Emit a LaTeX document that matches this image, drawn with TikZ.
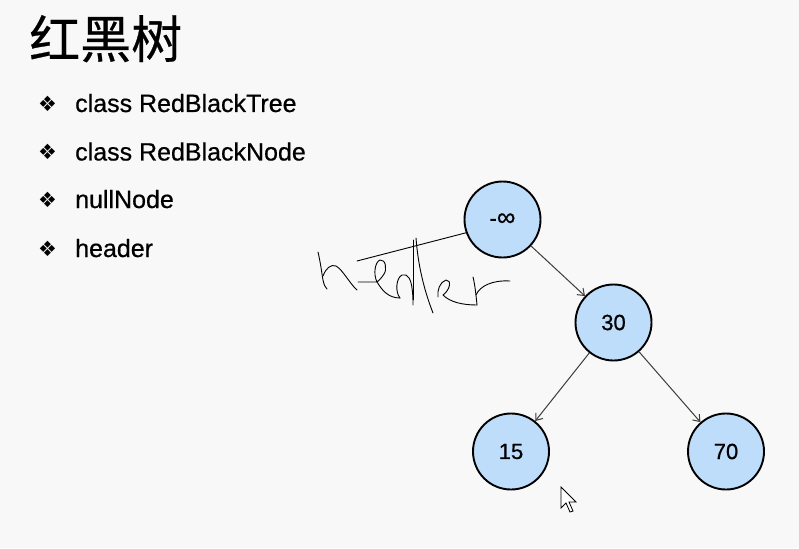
\documentclass[tikz,border=0pt]{standalone}
\usepackage{fontspec}
\setmainfont{Liberation Sans}
\newfontfamily\cjkfont[FakeBold=0.5]{Noto Sans CJK SC}
\newfontfamily\symfont{DejaVu Sans}
\newfontfamily\itemfont[FakeBold=0.6]{Liberation Sans}
\usetikzlibrary{arrows.meta}
\definecolor{bgc}{RGB}{248,248,248}
\definecolor{nodefill}{RGB}{190,221,250}
\definecolor{edgec}{RGB}{60,60,60}
\tikzset{
  treenode/.style={circle, draw=black, line width=1.9pt, fill=nodefill, minimum size=76pt, inner sep=0pt, font=\itemfont\fontsize{22}{24}\selectfont},
  treeedge/.style={draw=edgec, line width=1pt, -{Straight Barb[length=6pt,width=9pt]}},
  bulletitem/.style={anchor=base west, inner sep=0pt, font=\itemfont\fontsize{25}{28}\selectfont},
  bulletsym/.style={anchor=center, inner sep=0pt, font=\symfont\fontsize{21}{22}\selectfont},
  ink/.style={draw=black, line width=0.9pt, line cap=round, line join=round}
}
\begin{document}
\begin{tikzpicture}[x=1pt,y=-1pt]
\fill[bgc] (0,0) rectangle (799,548);
\useasboundingbox (0,0) rectangle (799,548);

% title
\node[anchor=base west, inner sep=0pt, font=\cjkfont\fontsize{51}{54}\selectfont] (title) at (29,58) {红黑树};

% bullets
\node[bulletsym] (b1) at (47.5,103.5) {❖};
\node[bulletitem] (t1) at (75,112) {class RedBlackTree};
\node[bulletsym] (b2) at (47.5,152) {❖};
\node[bulletitem] (t2) at (75,160.5) {class RedBlackNode};
\node[bulletsym] (b3) at (47.5,200) {❖};
\node[bulletitem] (t3) at (75,208) {nullNode};
\node[bulletsym] (b4) at (47.5,248.5) {❖};
\node[bulletitem] (t4) at (75,257) {header};

% tree
\node[treenode] (ninf) at (502.5,219.5) {-{\fontsize{26}{26}\selectfont∞}};
\node[treenode] (n30) at (613.5,322.5) {30};
\node[treenode] (n15) at (511,451.5) {15};
\node[treenode] (n70) at (726,451.5) {70};

\draw[treeedge] (ninf) -- (n30);
\draw[treeedge] (n30) -- (n15);
\draw[treeedge] (n30) -- (n70);

% handwritten annotation
\coordinate (hw) at (357,261);
\draw[ink] (hw) -- (ninf.200);
% h
\draw[ink] (318,252) .. controls (321,265) and (322,275) .. (323,280) .. controls (324,285) and (325,287) .. (327,289);
\draw[ink] (323,276) .. controls (326,268) and (331,264) .. (336,266) .. controls (343,270) and (350,284) .. (357,290);
% dash + e
\draw[ink] (358,282) -- (377,282) .. controls (373,274) and (375,262) .. (380,260) .. controls (386,259) and (387,270) .. (384,274) .. controls (381,279) and (378,281) .. (377,282) .. controls (382,290) and (388,298) .. (400,298);
% d
\draw[ink] (400,298) .. controls (395,292) and (396,278) .. (402,275) .. controls (408,273) and (411,280) .. (412,288) .. controls (413,295) and (413,300) .. (413,305);
\draw[ink] (413,240) -- (413,300);
\draw[ink] (416,238) .. controls (418,265) and (424,290) .. (433,313);
% e
\draw[ink] (438,297) .. controls (437,290) and (440,282) .. (446,280) .. controls (452,280) and (450,290) .. (443,295) .. controls (450,302) and (462,305) .. (477,305);
% r
\draw[ink] (473,277) .. controls (475,285) and (476,295) .. (477,305);
\draw[ink] (476,295) .. controls (480,286) and (492,280) .. (510,281);

% mouse cursor
\filldraw[fill=white, draw=black, line width=0.8pt, line join=miter]
  (561,487) -- (561,508) -- (566,503) -- (570,512) -- (573,511) -- (569,502) -- (576,502) -- cycle;
\end{tikzpicture}
\end{document}
